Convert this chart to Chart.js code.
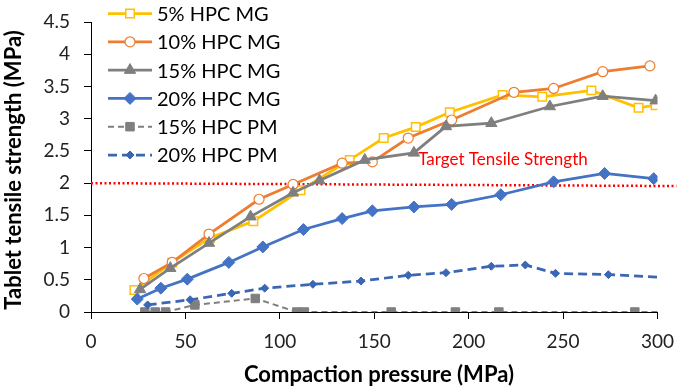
<!DOCTYPE html>
<html>
<head>
<meta charset="utf-8">
<script src="https://cdn.jsdelivr.net/npm/chart.js"></script>
<style>
  html, body { margin: 0; padding: 0; background: #fff; }
  #wrap { width: 685px; height: 389px; }
</style>
</head>
<body>
<div id="wrap"><canvas id="tensileChart"></canvas></div>
<script>
// tick labels
const xTickLabels = ['0', '50', '100', '150', '200', '250', '300'];
const yTickLabels = ['0', '0.5', '1', '1.5', '2', '2.5', '3', '3.5', '4', '4.5'];

const seriesNames = ['5% HPC MG', '10% HPC MG', '15% HPC MG', '20% HPC MG', '15% HPC PM', '20% HPC PM'];

// compaction pressure (MPa) / tensile strength (MPa)
const mg5X = [23, 43, 63, 86, 111, 137, 155, 172, 190, 218, 239, 265, 290, 299];
const mg5Y = [0.34, 0.77, 1.15, 1.41, 1.89, 2.36, 2.70, 2.87, 3.10, 3.37, 3.34, 3.44, 3.17, 3.21];

const mg10X = [28, 43, 62.5, 89, 107, 133, 149, 168, 191, 224, 245, 271, 296];
const mg10Y = [0.52, 0.77, 1.21, 1.75, 1.98, 2.31, 2.33, 2.70, 2.98, 3.41, 3.47, 3.73, 3.82];

const mg15X = [26, 42, 62.5, 84.5, 107, 121, 145, 171, 188, 212, 243, 271, 299];
const mg15Y = [0.35, 0.68, 1.07, 1.48, 1.85, 2.04, 2.36, 2.47, 2.88, 2.93, 3.19, 3.35, 3.28];

const mg20X = [24.5, 37, 51, 73, 91, 112.5, 133, 149, 171, 191, 217, 245, 272, 298];
const mg20Y = [0.20, 0.37, 0.51, 0.77, 1.01, 1.28, 1.45, 1.57, 1.63, 1.67, 1.82, 2.02, 2.15, 2.07];

const pm15X = [28.5, 34, 39.5, 55, 87, 109, 113, 159, 193, 216, 288, 300];
const pm15Y = [0, 0, 0, 0.11, 0.21, 0, 0, 0, 0, 0, 0, 0];

const pm20X = [30, 52.5, 74.5, 92, 117.5, 143, 168, 188, 212, 230, 246, 274, 300];
const pm20Y = [0.11, 0.19, 0.29, 0.37, 0.43, 0.48, 0.57, 0.61, 0.71, 0.73, 0.60, 0.58, 0.54];

const targetX = [0, 310];
const targetY = [2.0, 1.955];
const targetLabel = 'Target Tensile Strength';

const xTitle = 'Compaction pressure (MPa)';
const yTitle = 'Tablet tensile strength (MPa)';

function pts(xs, ys) {
    return xs.map((x, i) => ({ x: x, y: ys[i] }));
}

// no marker on the last point of the PM curves
function lastHidden(r) {
    return ctx => ctx.dataIndex === ctx.dataset.data.length - 1 ? 0 : r;
}

const FONT = 'Lato';

const series = [
    { label: seriesNames[0], data: pts(mg5X, mg5Y), borderColor: '#FFC000', borderWidth: 2.75,
      pointStyle: 'rect', pointRadius: 6, pointBackgroundColor: '#fff', pointBorderColor: '#FFC000', pointBorderWidth: 1.5, order: 6 },
    { label: seriesNames[1], data: pts(mg10X, mg10Y), borderColor: '#ED7D31', borderWidth: 2.75,
      pointStyle: 'circle', pointRadius: 5, pointBackgroundColor: '#fff', pointBorderColor: '#ED7D31', pointBorderWidth: 1.2, order: 5 },
    { label: seriesNames[2], data: pts(mg15X, mg15Y), borderColor: '#7F7F7F', borderWidth: 2.75,
      pointStyle: 'triangle', pointRadius: 6.5, pointBackgroundColor: '#7F7F7F', pointBorderColor: '#7F7F7F', pointBorderWidth: 1, order: 4 },
    { label: seriesNames[3], data: pts(mg20X, mg20Y), borderColor: '#4472C4', borderWidth: 2.75,
      pointStyle: 'rectRot', pointRadius: 6, pointBackgroundColor: '#4472C4', pointBorderColor: '#4472C4', pointBorderWidth: 1, order: 3 },
    { label: seriesNames[4], data: pts(pm15X, pm15Y), borderColor: '#7F7F7F', borderWidth: 2, borderDash: [6, 4],
      pointStyle: 'rect', pointRadius: lastHidden(6), pointBackgroundColor: '#7F7F7F', pointBorderColor: '#7F7F7F', pointBorderWidth: 1, order: 2 },
    { label: seriesNames[5], data: pts(pm20X, pm20Y), borderColor: '#3A66B4', borderWidth: 2.75, borderDash: [9, 5],
      pointStyle: 'rectRot', pointRadius: lastHidden(4), pointBackgroundColor: '#3A66B4', pointBorderColor: '#3A66B4', pointBorderWidth: 1, order: 1 }
];

const target = {
    label: targetLabel, data: pts(targetX, targetY), borderColor: '#FF0000', borderWidth: 2.5,
    borderDash: [2, 2.5], borderCapStyle: 'butt', pointRadius: 0, clip: false, order: 7
};

// legend, axis titles and the target label, placed like in the figure
const overlay = {
    id: 'overlay',
    afterDatasetsDraw(chart) {
        const ctx = chart.ctx;
        ctx.save();
        series.forEach((s, i) => {
            const y = 13.5 + i * 28.3;
            ctx.strokeStyle = s.borderColor;
            ctx.lineWidth = s.borderWidth;
            ctx.setLineDash(s.borderDash || []);
            ctx.beginPath();
            ctx.moveTo(108, y);
            ctx.lineTo(152, y);
            ctx.stroke();
            ctx.setLineDash([]);
            ctx.fillStyle = s.pointBackgroundColor;
            ctx.strokeStyle = s.pointBorderColor;
            ctx.lineWidth = s.pointBorderWidth;
            const r = typeof s.pointRadius === 'function' ? s.pointRadius({ dataIndex: 0, dataset: s }) : s.pointRadius;
            Chart.helpers.drawPoint(ctx, { pointStyle: s.pointStyle, radius: r, borderWidth: s.pointBorderWidth, rotation: 0 }, 130, y);
            ctx.fillStyle = '#000';
            ctx.font = '20px ' + FONT;
            ctx.textAlign = 'left';
            ctx.textBaseline = 'middle';
            ctx.fillText(s.label, 157, y + 1);
        });

        ctx.fillStyle = '#FF0000';
        ctx.font = '17px ' + FONT;
        ctx.textAlign = 'center';
        ctx.textBaseline = 'middle';
        ctx.fillText(targetLabel, 503, 160);

        ctx.fillStyle = '#000';
        ctx.font = 'bold 22px ' + FONT;
        ctx.fillText(xTitle, 379, 375);
        ctx.translate(14, 170);
        ctx.rotate(-Math.PI / 2);
        ctx.fillText(yTitle, 0, 0);
        ctx.restore();
    }
};

new Chart(document.getElementById('tensileChart'), {
    type: 'line',
    data: { datasets: series.concat([target]) },
    options: {
        responsive: true,
        maintainAspectRatio: false,
        animation: false,
        devicePixelRatio: 1,
        layout: { padding: { left: 0, right: 21, top: 0, bottom: 0 } },
        elements: { line: { tension: 0 } },
        plugins: {
            legend: { display: false },
            tooltip: { enabled: false }
        },
        scales: {
            x: {
                type: 'linear',
                min: 0,
                max: 300,
                ticks: {
                    stepSize: 50,
                    maxRotation: 0,
                    padding: 11,
                    color: '#222',
                    font: { family: FONT, size: 19 },
                    callback: (v, i) => xTickLabels[i]
                },
                grid: { drawOnChartArea: false, drawTicks: true, tickLength: 7, color: '#000' },
                border: { color: '#000', width: 1 },
                afterFit: s => { s.height = 77; }
            },
            y: {
                min: 0,
                max: 4.5,
                ticks: {
                    stepSize: 0.5,
                    padding: 14,
                    color: '#222',
                    font: { family: FONT, size: 19, lineHeight: 0.85 },
                    callback: (v, i) => yTickLabels[i]
                },
                grid: { drawOnChartArea: false, drawTicks: true, tickLength: 7, color: '#000' },
                border: { color: '#000', width: 1 },
                afterFit: s => { s.width = 91; }
            }
        }
    },
    plugins: [overlay]
});
</script>
</body>
</html>
